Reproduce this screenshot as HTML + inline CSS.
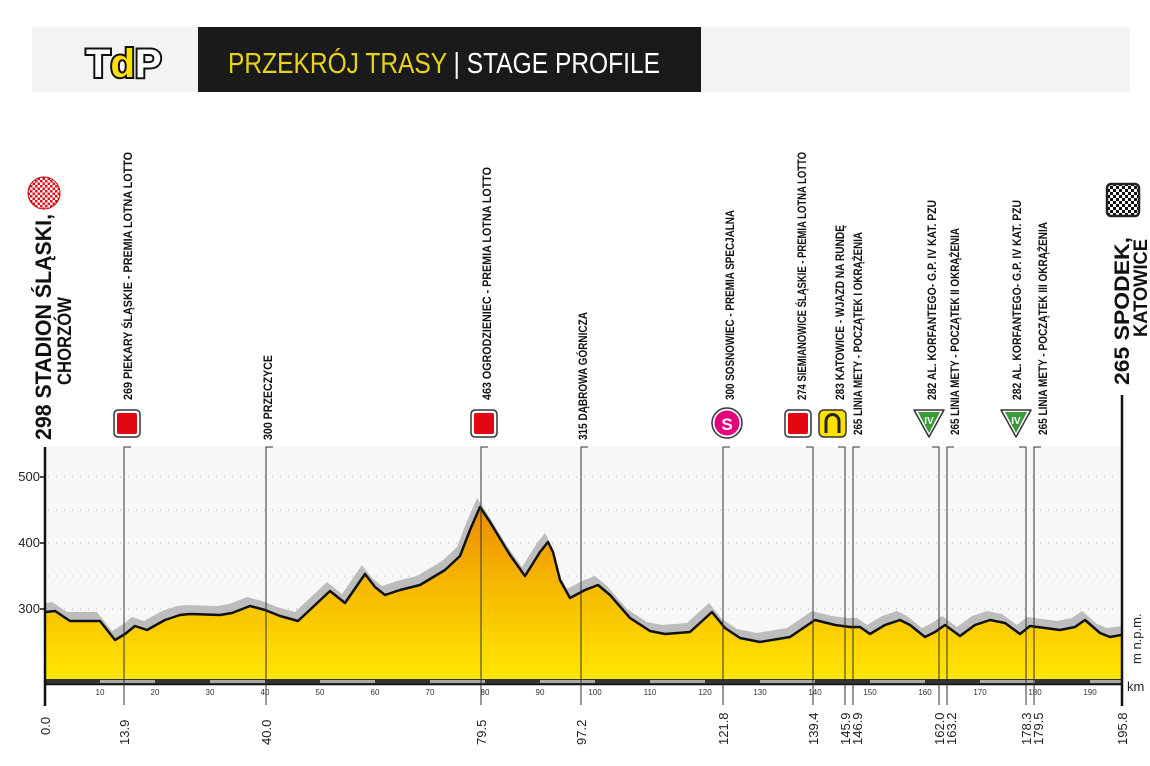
<!DOCTYPE html>
<html><head><meta charset="utf-8"><style>
html,body{margin:0;padding:0;background:#fff;}
svg{display:block;}
.l{font-family:"Liberation Sans Narrow","Liberation Sans",sans-serif;font-weight:bold;font-size:12px;fill:#111;}
.k{font-family:"Liberation Sans",sans-serif;font-size:13px;fill:#222;}
.t{font-family:"Liberation Sans Narrow","Liberation Sans",sans-serif;font-size:8px;fill:#333;}
</style></head><body>
<svg width="1150" height="766" viewBox="0 0 1150 766" xmlns="http://www.w3.org/2000/svg">
<defs>
<linearGradient id="g" x1="0" y1="0" x2="0" y2="1">
<stop offset="0" stop-color="#ec8a00"/><stop offset="0.45" stop-color="#f6b800"/><stop offset="1" stop-color="#ffe600"/>
</linearGradient>
<pattern id="chk" width="6" height="6" patternUnits="userSpaceOnUse"><rect width="6" height="6" fill="#fff"/><rect width="3" height="3" fill="#111"/><rect x="3" y="3" width="3" height="3" fill="#111"/></pattern>
<pattern id="chr" width="5" height="5" patternUnits="userSpaceOnUse"><rect width="5" height="5" fill="#fff"/><rect width="2.5" height="2.5" fill="#e0101e"/><rect x="2.5" y="2.5" width="2.5" height="2.5" fill="#e0101e"/></pattern>
</defs>
<rect x="32" y="27" width="1098" height="65" fill="#f3f3f3"/>
<rect x="198" y="27" width="503" height="65" fill="#1a1a1a"/>
<text x="86" y="77" font-family="Liberation Sans Narrow, Liberation Sans, sans-serif" font-weight="bold" font-size="40" fill="#fff" stroke="#111" stroke-width="4" paint-order="stroke">T<tspan fill="#ffe000">d</tspan>P</text>
<text x="228" y="73" font-family="Liberation Sans Narrow, Liberation Sans, sans-serif" font-size="29" textLength="432" lengthAdjust="spacingAndGlyphs" fill="#e6d41c">PRZEKRÓJ TRASY <tspan fill="#fff">| STAGE PROFILE</tspan></text>
<rect x="46" y="447" width="1076" height="232" fill="#f7f7f7"/>
<g stroke="#b5b5b5" stroke-width="1" stroke-dasharray="1 7">
<line x1="48" y1="477" x2="1120" y2="477"/><line x1="48" y1="510" x2="1120" y2="510"/>
<line x1="48" y1="543" x2="1120" y2="543"/><line x1="48" y1="576" x2="1120" y2="576"/>
<line x1="48" y1="609" x2="1120" y2="609"/><line x1="48" y1="645" x2="1120" y2="645"/>
</g>
<path transform="translate(-3,-9)" fill="#bdbdbd" d="M49,612 L55,611 L70,621 L100,621 L115,640 L125,634 L135,626 L147,630 L165,620 L180,615 L190,614 L220,615 L232,613 L250,606 L265,610 L280,616 L298,621 L330,591 L345,603 L365,574 L375,587 L385,595 L400,590 L420,585 L445,570 L460,556 L470,530 L480,507 L490,522 L510,555 L525,576 L540,552 L548,542 L553,552 L560,580 L570,598 L585,590 L598,585 L610,595 L630,618 L650,631 L665,634 L690,632 L712,612 L725,628 L740,638 L760,642 L790,637 L815,620 L835,625 L850,627 L860,627 L870,634 L885,625 L900,620 L910,625 L925,637 L935,632 L945,625 L960,636 L975,625 L990,620 L1005,623 L1020,634 L1030,626 L1045,628 L1060,630 L1075,627 L1085,620 L1100,633 L1110,637 L1125,635 L1125,688 L49,688 Z"/>
<path fill="url(#g)" d="M46,612 L55,611 L70,621 L100,621 L115,640 L125,634 L135,626 L147,630 L165,620 L180,615 L190,614 L220,615 L232,613 L250,606 L265,610 L280,616 L298,621 L330,591 L345,603 L365,574 L375,587 L385,595 L400,590 L420,585 L445,570 L460,556 L470,530 L480,507 L490,522 L510,555 L525,576 L540,552 L548,542 L553,552 L560,580 L570,598 L585,590 L598,585 L610,595 L630,618 L650,631 L665,634 L690,632 L712,612 L725,628 L740,638 L760,642 L790,637 L815,620 L835,625 L850,627 L860,627 L870,634 L885,625 L900,620 L910,625 L925,637 L935,632 L945,625 L960,636 L975,625 L990,620 L1005,623 L1020,634 L1030,626 L1045,628 L1060,630 L1075,627 L1085,620 L1100,633 L1110,637 L1121,635 L1121,679 L46,679 Z"/>
<path fill="none" stroke="#111" stroke-width="2.5" stroke-linejoin="round" d="M46,612 L55,611 L70,621 L100,621 L115,640 L125,634 L135,626 L147,630 L165,620 L180,615 L190,614 L220,615 L232,613 L250,606 L265,610 L280,616 L298,621 L330,591 L345,603 L365,574 L375,587 L385,595 L400,590 L420,585 L445,570 L460,556 L470,530 L480,507 L490,522 L510,555 L525,576 L540,552 L548,542 L553,552 L560,580 L570,598 L585,590 L598,585 L610,595 L630,618 L650,631 L665,634 L690,632 L712,612 L725,628 L740,638 L760,642 L790,637 L815,620 L835,625 L850,627 L860,627 L870,634 L885,625 L900,620 L910,625 L925,637 L935,632 L945,625 L960,636 L975,625 L990,620 L1005,623 L1020,634 L1030,626 L1045,628 L1060,630 L1075,627 L1085,620 L1100,633 L1110,637 L1121,635"/>
<rect x="40" y="686" width="1090" height="10" fill="#fff"/>
<rect x="46" y="679" width="1076" height="5" fill="#333"/>
<g fill="#aaa"><rect x="100" y="680" width="55" height="3"/><rect x="210" y="680" width="55" height="3"/><rect x="320" y="680" width="55" height="3"/><rect x="430" y="680" width="55" height="3"/><rect x="540" y="680" width="55" height="3"/><rect x="650" y="680" width="55" height="3"/><rect x="760" y="680" width="55" height="3"/><rect x="870" y="680" width="55" height="3"/><rect x="980" y="680" width="55" height="3"/><rect x="1090" y="680" width="32" height="3"/></g>
<line x1="46" y1="684.5" x2="1122" y2="684.5" stroke="#111" stroke-width="1.5"/>
<line x1="45" y1="447" x2="45" y2="706" stroke="#111" stroke-width="2.5"/>
<line x1="1122" y1="395" x2="1122" y2="706" stroke="#111" stroke-width="2.5"/>
<g class="k" text-anchor="end" font-size="12"><text x="40" y="481">500</text><text x="40" y="547">400</text><text x="40" y="613">300</text></g>
<g stroke="#111" stroke-width="1.5"><line x1="40" y1="477" x2="45" y2="477"/><line x1="40" y1="543" x2="45" y2="543"/><line x1="40" y1="609" x2="45" y2="609"/></g>
<g class="t" text-anchor="middle"><text x="100" y="695">10</text><text x="155" y="695">20</text><text x="210" y="695">30</text><text x="265" y="695">40</text><text x="320" y="695">50</text><text x="375" y="695">60</text><text x="430" y="695">70</text><text x="485" y="695">80</text><text x="540" y="695">90</text><text x="595" y="695">100</text><text x="650" y="695">110</text><text x="705" y="695">120</text><text x="760" y="695">130</text><text x="815" y="695">140</text><text x="870" y="695">150</text><text x="925" y="695">160</text><text x="980" y="695">170</text><text x="1035" y="695">180</text><text x="1090" y="695">190</text></g>
<text x="1127" y="691" class="k" font-size="12">km</text>
<text transform="translate(1141,664) rotate(-90)" class="k" font-size="10">m n.p.m.</text>
<g stroke="#333" stroke-width="1" fill="none">
<path d="M124,705 V447 h7"/><path d="M266,705 V447 h7"/><path d="M481,705 V447 h7"/><path d="M581,705 V447 h7"/><path d="M723,705 V447 h7"/><path d="M813,705 V447 h-7"/><path d="M845,705 V447 h-7"/><path d="M853,705 V447 h7"/><path d="M939,705 V447 h-7"/><path d="M947,705 V447 h7"/><path d="M1026,705 V447 h-7"/><path d="M1034,705 V447 h7"/>
</g>
<g class="k" font-size="13">
<text transform="translate(50,735) rotate(-90)">0.0</text>
<text transform="translate(129,745) rotate(-90)">13.9</text>
<text transform="translate(271,745) rotate(-90)">40.0</text>
<text transform="translate(486,745) rotate(-90)">79.5</text>
<text transform="translate(586,745) rotate(-90)">97.2</text>
<text transform="translate(728,745) rotate(-90)">121.8</text>
<text transform="translate(818,745) rotate(-90)">139.4</text>
<text transform="translate(850,745) rotate(-90)">145.9</text>
<text transform="translate(862,745) rotate(-90)">146.9</text>
<text transform="translate(944,745) rotate(-90)">162.0</text>
<text transform="translate(956,745) rotate(-90)">163.2</text>
<text transform="translate(1031,745) rotate(-90)">178.3</text>
<text transform="translate(1043,745) rotate(-90)">179.5</text>
<text transform="translate(1127,745) rotate(-90)">195.8</text>
</g>
<g class="l">
<text transform="translate(132,400) rotate(-90)" textLength="248" lengthAdjust="spacingAndGlyphs">269 PIEKARY ŚLĄSKIE - PREMIA LOTNA LOTTO</text>
<text transform="translate(272,440) rotate(-90)" textLength="85" lengthAdjust="spacingAndGlyphs">300 PRZECZYCE</text>
<text transform="translate(491,400) rotate(-90)" textLength="233" lengthAdjust="spacingAndGlyphs">463 OGRODZIENIEC - PREMIA LOTNA LOTTO</text>
<text transform="translate(587,440) rotate(-90)" textLength="128" lengthAdjust="spacingAndGlyphs">315 DĄBROWA GÓRNICZA</text>
<text transform="translate(734,400) rotate(-90)" textLength="190" lengthAdjust="spacingAndGlyphs">300 SOSNOWIEC - PREMIA SPECJALNA</text>
<text transform="translate(806,400) rotate(-90)" textLength="248" lengthAdjust="spacingAndGlyphs">274 SIEMIANOWICE ŚLĄSKIE - PREMIA LOTNA LOTTO</text>
<text transform="translate(844,400) rotate(-90)" textLength="175" lengthAdjust="spacingAndGlyphs">283 KATOWICE -  WJAZD NA RUNDĘ</text>
<text transform="translate(862,435) rotate(-90)" textLength="203" lengthAdjust="spacingAndGlyphs">265 LINIA METY - POCZĄTEK I OKRĄŻENIA</text>
<text transform="translate(936,400) rotate(-90)" textLength="200" lengthAdjust="spacingAndGlyphs">282 AL. KORFANTEGO-  G.P. IV KAT. PZU</text>
<text transform="translate(959,435) rotate(-90)" textLength="207" lengthAdjust="spacingAndGlyphs">265 LINIA METY - POCZĄTEK II OKRĄŻENIA</text>
<text transform="translate(1021,400) rotate(-90)" textLength="200" lengthAdjust="spacingAndGlyphs">282 AL. KORFANTEGO-  G.P. IV KAT. PZU</text>
<text transform="translate(1047,435) rotate(-90)" textLength="213" lengthAdjust="spacingAndGlyphs">265 LINIA METY - POCZĄTEK III OKRĄŻENIA</text>
</g>
<g font-family="Liberation Sans Narrow, Liberation Sans, sans-serif" font-weight="bold" fill="#111">
<text transform="translate(51,440) rotate(-90)" font-size="22" textLength="226" lengthAdjust="spacingAndGlyphs">298 STADION ŚLĄSKI,</text>
<text transform="translate(71,385) rotate(-90)" font-size="19" textLength="88" lengthAdjust="spacingAndGlyphs">CHORZÓW</text>
<text transform="translate(1129,385) rotate(-90)" font-size="21" textLength="148" lengthAdjust="spacingAndGlyphs">265 SPODEK,</text>
<text transform="translate(1147,337) rotate(-90)" font-size="19" textLength="98" lengthAdjust="spacingAndGlyphs">KATOWICE</text>
</g>
<circle cx="44" cy="193" r="16" fill="url(#chr)" stroke="#c00" stroke-width="1"/>
<rect x="1107" y="184" width="32" height="32" rx="4" fill="url(#chk)" stroke="#222" stroke-width="2.5"/>
<g stroke="#333" stroke-width="1.5">
<rect x="114" y="410" width="26" height="27" rx="4" fill="#fff"/><rect x="117" y="413" width="20" height="21" rx="2" fill="#e30613" stroke="none"/>
<rect x="471" y="410" width="26" height="27" rx="4" fill="#fff"/><rect x="474" y="413" width="20" height="21" rx="2" fill="#e30613" stroke="none"/>
<rect x="785" y="410" width="26" height="27" rx="4" fill="#fff"/><rect x="788" y="413" width="20" height="21" rx="2" fill="#e30613" stroke="none"/>
<rect x="819" y="410" width="27" height="27" rx="5" fill="#ffe000"/>
<circle cx="727" cy="423" r="15" fill="#fff"/><circle cx="727" cy="423" r="12.5" fill="#e6007e" stroke="none"/>
<path d="M914,410 h30 l-15,27 z" fill="#fff" stroke-linejoin="round"/><path d="M918,412 h22 l-11,21 z" fill="#3a9a3a" stroke="none"/>
<path d="M1001,410 h30 l-15,27 z" fill="#fff" stroke-linejoin="round"/><path d="M1005,412 h22 l-11,21 z" fill="#3a9a3a" stroke="none"/>
</g>
<path d="M826,433 V421 a6.5,6.5 0 0 1 13,0 V433" fill="none" stroke="#222" stroke-width="3"/>
<text x="727" y="430" text-anchor="middle" font-family="Liberation Sans, sans-serif" font-weight="bold" font-size="17" fill="#fff">S</text>
<text x="929" y="424" text-anchor="middle" font-family="Liberation Sans Narrow, Liberation Sans, sans-serif" font-weight="bold" font-size="10" fill="#fff">IV</text>
<text x="1016" y="424" text-anchor="middle" font-family="Liberation Sans Narrow, Liberation Sans, sans-serif" font-weight="bold" font-size="10" fill="#fff">IV</text>
</svg>
</body></html>
